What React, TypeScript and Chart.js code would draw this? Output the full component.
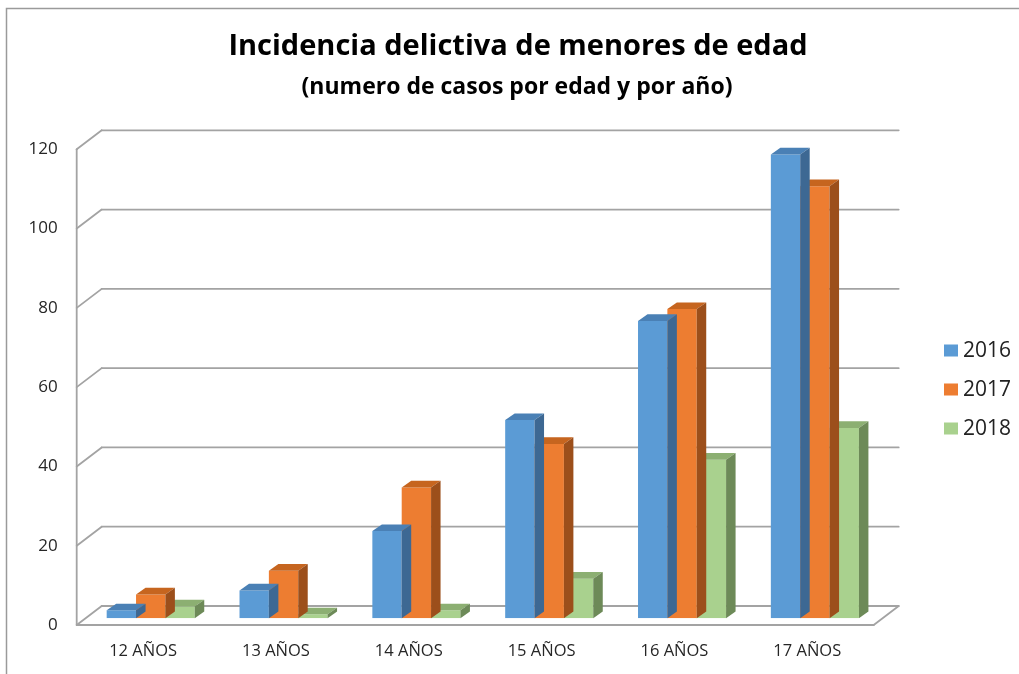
import React, { useEffect, useRef } from 'react';
import { Chart, registerables } from 'chart.js';

Chart.register(...registerables);

const TITLE = 'Incidencia delictiva de menores de edad';
const SUBTITLE = '(numero de casos por edad y por año)';
const categories = ['12 AÑOS', '13 AÑOS', '14 AÑOS', '15 AÑOS', '16 AÑOS', '17 AÑOS'];
const seriesNames = ['2016', '2017', '2018'];
const values2016 = [2, 7, 22, 50, 75, 117];
const values2017 = [6, 12, 33, 44, 78, 109];
const values2018 = [3, 1, 2, 10, 40, 48];
const yTicks = [0, 20, 40, 60, 80, 100, 120];

const frontColors = ['#5B9BD5', '#ED7D31', '#A9D18E'];
const topColors = ['#4A80B5', '#C6651F', '#8CAF72'];
const sideColors = ['#3D6893', '#9C4F1B', '#6D8A58'];

const FONT = '"Open Sans", "Liberation Sans", sans-serif';
const BAR_D = { dx: 9.5, dy: -6.7 };
const FRONT = { dx: -7.6, dy: 6.7 };
const BACK = { dx: 17.4, dy: -12.3 };
const GRID = '#a3a3a3';

const plugin3d = {
  id: 'excel3d',
  beforeDraw(chart: any) {
    const ctx = chart.ctx;
    ctx.save();
    ctx.strokeStyle = '#9a9a9a';
    ctx.lineWidth = 1.5;
    ctx.strokeRect(6.5, 8.5, 1200, 800);
    ctx.fillStyle = '#000';
    ctx.textAlign = 'center';
    ctx.textBaseline = 'middle';
    ctx.font = `bold 29px ${FONT}`;
    ctx.fillText(TITLE, 518, 47);
    ctx.font = `bold 23px ${FONT}`;
    ctx.fillText(SUBTITLE, 517, 87);
    ctx.restore();
  },
  beforeDatasetsDraw(chart: any) {
    const ctx = chart.ctx;
    const { left, right, top, bottom } = chart.chartArea;
    const y = chart.scales.y;
    const x = chart.scales.x;
    ctx.save();
    ctx.strokeStyle = GRID;
    ctx.lineWidth = 1.8;
    ctx.lineCap = 'round';
    const line = (x1: number, y1: number, x2: number, y2: number) => {
      ctx.beginPath();
      ctx.moveTo(x1, y1);
      ctx.lineTo(x2, y2);
      ctx.stroke();
    };
    yTicks.forEach((v) => {
      const yp = y.getPixelForValue(v);
      line(left + BACK.dx, yp + BACK.dy, right + BACK.dx, yp + BACK.dy);
      line(left + FRONT.dx, yp + FRONT.dy, left + BACK.dx, yp + BACK.dy);
    });
    line(left + FRONT.dx, top + FRONT.dy, left + FRONT.dx, bottom + FRONT.dy);
    line(left + FRONT.dx, bottom + FRONT.dy, right + FRONT.dx, bottom + FRONT.dy);
    line(right + FRONT.dx, bottom + FRONT.dy, right + BACK.dx, bottom + BACK.dy);

    ctx.fillStyle = '#262626';
    ctx.textAlign = 'right';
    ctx.textBaseline = 'middle';
    ctx.font = `17px ${FONT}`;
    yTicks.forEach((v) => {
      ctx.fillText(String(v), left + FRONT.dx - 19, y.getPixelForValue(v) + FRONT.dy);
    });
    ctx.textAlign = 'center';
    ctx.font = `16.5px ${FONT}`;
    categories.forEach((c, i) => {
      ctx.fillText(c, x.getPixelForValue(i) + FRONT.dx, 651);
    });
    ctx.restore();
  },
  afterDatasetDraw(chart: any, args: any) {
    const ctx = chart.ctx;
    const i = args.index;
    const meta = chart.getDatasetMeta(i);
    ctx.save();
    meta.data.forEach((el: any) => {
      const p = el.getProps(['x', 'y', 'base', 'width'], true);
      const l = p.x - p.width / 2;
      const r = p.x + p.width / 2;
      const t = Math.min(p.y, p.base);
      const b = Math.max(p.y, p.base);
      ctx.fillStyle = topColors[i];
      ctx.beginPath();
      ctx.moveTo(l, t);
      ctx.lineTo(l + BAR_D.dx, t + BAR_D.dy);
      ctx.lineTo(r + BAR_D.dx, t + BAR_D.dy);
      ctx.lineTo(r, t);
      ctx.closePath();
      ctx.fill();
      ctx.fillStyle = sideColors[i];
      ctx.beginPath();
      ctx.moveTo(r, t);
      ctx.lineTo(r + BAR_D.dx, t + BAR_D.dy);
      ctx.lineTo(r + BAR_D.dx, b + BAR_D.dy);
      ctx.lineTo(r, b);
      ctx.closePath();
      ctx.fill();
    });
    ctx.restore();
  },
  afterDraw(chart: any) {
    const ctx = chart.ctx;
    ctx.save();
    ctx.textAlign = 'left';
    ctx.textBaseline = 'middle';
    ctx.font = `21px ${FONT}`;
    seriesNames.forEach((s, i) => {
      const yc = 350.5 + i * 39;
      ctx.fillStyle = frontColors[i];
      ctx.fillRect(944, yc - 6, 14, 12);
      ctx.fillStyle = '#222';
      ctx.fillText(s, 963, yc + 1);
    });
    ctx.restore();
  },
};

export default function App() {
  const ref = useRef<HTMLCanvasElement | null>(null);
  useEffect(() => {
    if (!ref.current) return;
    const chart = new Chart(ref.current, {
      type: 'bar',
      data: {
        labels: categories,
        datasets: [
          { label: seriesNames[0], data: values2016, backgroundColor: frontColors[0] },
          { label: seriesNames[1], data: values2017, backgroundColor: frontColors[1] },
          { label: seriesNames[2], data: values2018, backgroundColor: frontColors[2] },
        ],
      },
      options: {
        responsive: false,
        animation: false,
        layout: { padding: { left: 84.3, right: 137.7, top: 142.6, bottom: 55.7 } },
        datasets: { bar: { categoryPercentage: 0.663, barPercentage: 1.0, borderWidth: 0 } },
        scales: {
          x: { type: 'category', display: false, grid: { display: false } },
          y: { min: 0, max: 120, display: false, grid: { display: false } },
        },
        plugins: {
          legend: { display: false },
          title: { display: false },
          tooltip: { enabled: false },
        },
      } as any,
      plugins: [plugin3d],
    });
    return () => chart.destroy();
  }, []);
  return (
    <div style={{ position: 'absolute', left: 0, top: 0, width: 1019, height: 674, background: '#fff' }}>
      <canvas ref={ref} width={1019} height={674} style={{ display: 'block' }} />
    </div>
  );
}
